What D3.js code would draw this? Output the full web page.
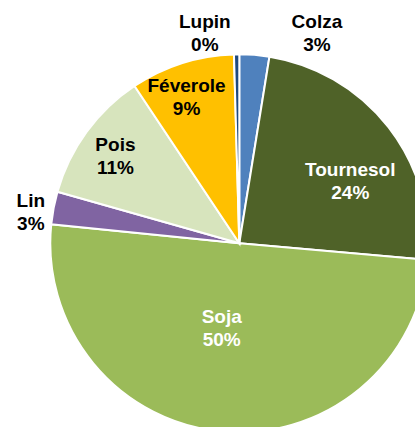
<!DOCTYPE html>
<html>
<head>
<meta charset="utf-8">
<script src="https://cdn.jsdelivr.net/npm/d3@7"></script>
<style>
  html, body { margin: 0; padding: 0; background: #ffffff; }
  svg { display: block; }
</style>
</head>
<body>
<svg id="chart" width="415" height="427"></svg>
<script>
// ---- data ----
const categories = ["Colza", "Tournesol", "Soja", "Lin", "Pois", "Féverole", "Lupin"];
const shares = [2.55, 23.85, 50.2, 2.8, 11.25, 8.9, 0.45];
const colors = ["#4F81BD", "#4F6228", "#9BBB59", "#8064A2", "#D7E4BD", "#FFC000", "#1F497D"];
const labelColors = ["#000000", "#ffffff", "#ffffff", "#000000", "#000000", "#000000", "#000000"];

// label placement (radius factor of pie radius, angle offset in degrees from slice middle)
const labelRadius = [1.19, 0.674, 0.455, 1.116, 0.803, 0.822, 1.128];
const labelShift = [15.6, 8.5, 6.4, -2.05, -0.8, -2.2, -8.5];

// ---- layout ----
const cx = 239.3, cy = 243.3, R = 189;
const fontSize = 19, lineGap = 23;

const svg = d3.select("#chart");
const g = svg.append("g").attr("transform", `translate(${cx},${cy})`);

const data = categories.map((c, i) => ({ name: c, value: shares[i], i }));
const pie = d3.pie().sort(null).value(d => d.value).startAngle(0);
const arcs = pie(data);
const arc = d3.arc().innerRadius(0).outerRadius(R);

g.selectAll("path.slice")
  .data(arcs)
  .join("path")
  .attr("class", "slice")
  .attr("d", arc)
  .attr("fill", d => colors[d.data.i])
  .attr("stroke", "#ffffff")
  .attr("stroke-width", 2)
  .attr("stroke-linejoin", "miter");

const total = d3.sum(shares);
const fmt = v => Math.round(v / total * 100) + "%";

const labels = g.selectAll("text.lbl")
  .data(arcs)
  .join("text")
  .attr("class", "lbl")
  .attr("text-anchor", "middle")
  .attr("font-family", "'Liberation Sans', Arial, sans-serif")
  .attr("font-weight", "bold")
  .attr("font-size", fontSize)
  .attr("fill", d => labelColors[d.data.i])
  .attr("transform", d => {
    const i = d.data.i;
    const a = (d.startAngle + d.endAngle) / 2 + labelShift[i] * Math.PI / 180;
    const r = labelRadius[i] * R;
    return `translate(${r * Math.sin(a)},${-r * Math.cos(a)})`;
  });

const capHalf = fontSize * 0.716 / 2;
labels.append("tspan")
  .attr("x", 0)
  .attr("y", -lineGap / 2 + capHalf)
  .text(d => d.data.name);
labels.append("tspan")
  .attr("x", 0)
  .attr("y", lineGap / 2 + capHalf)
  .text(d => fmt(d.data.value));
</script>
</body>
</html>
